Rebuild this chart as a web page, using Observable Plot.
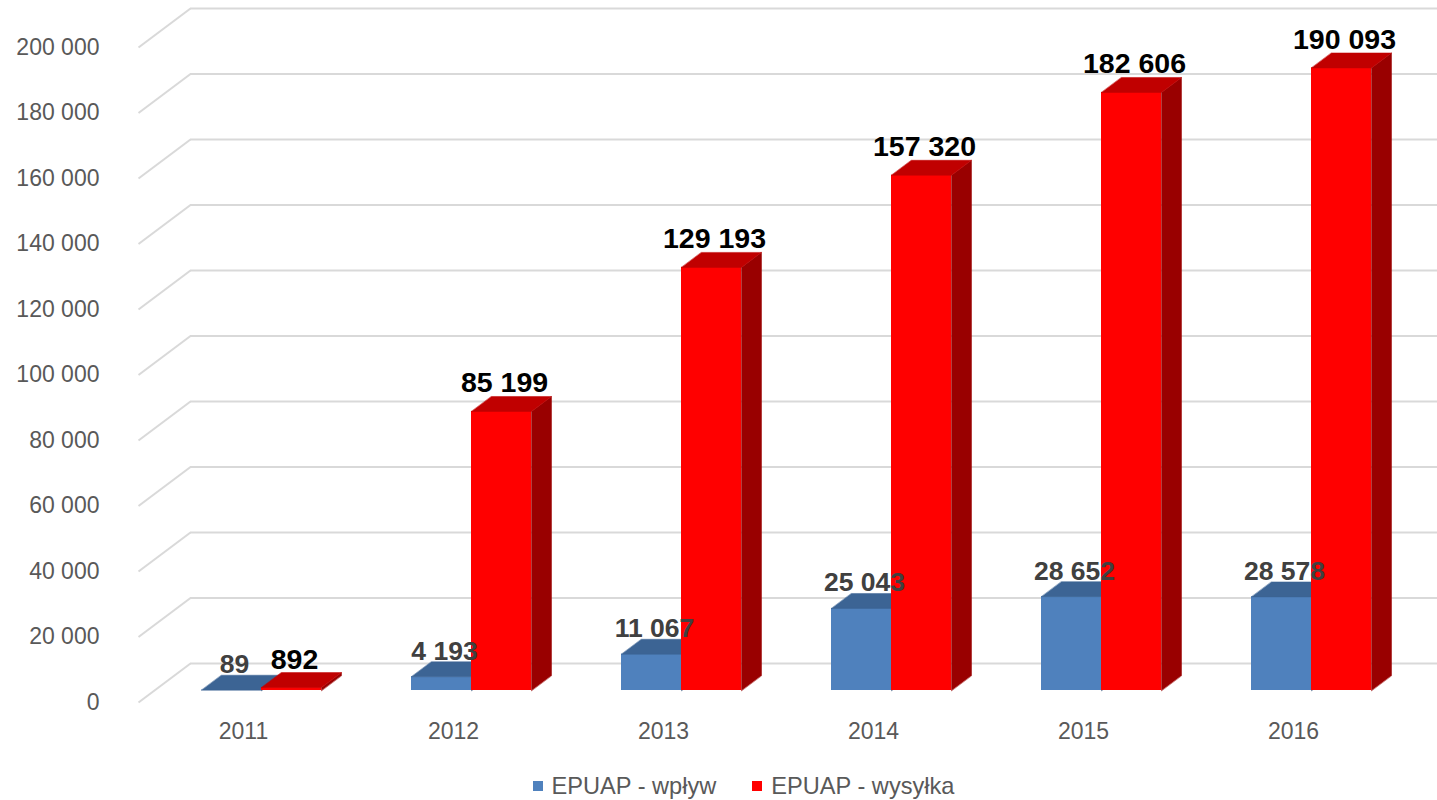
<!DOCTYPE html>
<html>
<head>
<meta charset="utf-8">
<script src="https://cdn.jsdelivr.net/npm/d3@7"></script>
<script src="https://cdn.jsdelivr.net/npm/@observablehq/plot@0.6"></script>
<style>
  html, body { margin: 0; padding: 0; background: #fff; }
  #chart svg { display: block; }
  #legend {
    height: 40px; display: flex; justify-content: center; align-items: center;
    font-family: "Liberation Sans", Arial, sans-serif; font-size: 23.6px; color: #595959;
    margin-top: 6px; padding-left: 50px;
  }
  .item { display: flex; align-items: center; margin: 0 18px; }
  .sw { width: 10px; height: 10px; margin-right: 9px; }
</style>
</head>
<body>
<div id="chart"></div>
<div id="legend"></div>
<script>
// ---- data ----
const years = ["2011", "2012", "2013", "2014", "2015", "2016"];
const wplyw = [89, 4193, 11067, 25043, 28652, 28578];
const wysylka = [892, 85199, 129193, 157320, 182606, 190093];
const yTicks = [0, 20000, 40000, 60000, 80000, 100000, 120000, 140000, 160000, 180000, 200000];
const seriesNames = ["EPUAP - wpływ", "EPUAP - wysyłka"];

// ---- styling / geometry constants (pixels) ----
const W = 1437, H = 760;
const mLeft = 138, mRight = 39, mTop = 47, mBottom = 58;
const colors = {
  blue: {front: "#4f81bd", top: "#3c6494", side: "#2f5078"},
  red: {front: "#ff0000", top: "#c00000", side: "#990000"}
};
const wallDX = 52, wallDY = 39;     // depth of back wall
const barDX = 18, barDY = 12;       // offset of bar front plane
const depDX = 20, depDY = 15;       // bar depth
const barW = 60;                    // bar width in px

// px -> data units, from the scale extents
const kx = 6 / (W - mLeft - mRight);
const ky = 200000 / (H - mTop - mBottom);

const fmt = v => d3.format(",")(v).replace(/,/g, " ");

// build geometry from data
const w = barW * kx, dX = depDX * kx, dY = depDY * ky;
function bars(values, series) {
  const fronts = [], tops = [], sides = [], labels = [];
  values.forEach((v, i) => {
    const c = i + 0.5;
    const x1 = series === "blue" ? c - w : c;
    const x2 = x1 + w;
    fronts.push({x1, x2, y1: 0, y2: v});
    const id = series + i;
    tops.push({id, x: x1, y: v}, {id, x: x2, y: v}, {id, x: x2 + dX, y: v + dY}, {id, x: x1 + dX, y: v + dY});
    sides.push({id, x: x2, y: 0}, {id, x: x2, y: v}, {id, x: x2 + dX, y: v + dY}, {id, x: x2 + dX, y: dY});
    labels.push({x: (x1 + x2) / 2, y: v, text: fmt(v)});
  });
  return {fronts, tops, sides, labels};
}
const B = bars(wplyw, "blue");
const R = bars(wysylka, "red");

const grid = yTicks.map(v => ({v, x1: 0, y1: v, x2: wallDX * kx, y2: v + wallDY * ky}));

function barMarks(G, col) {
  const off = {dx: barDX, dy: -barDY};
  return [
    Plot.line(G.sides, {x: "x", y: "y", z: "id", fill: col.side, stroke: col.side, strokeWidth: 0.5, curve: "linear-closed", ...off}),
    Plot.rect(G.fronts, {x1: "x1", x2: "x2", y1: "y1", y2: "y2", fill: col.front, ...off}),
    Plot.line(G.tops, {x: "x", y: "y", z: "id", fill: col.top, stroke: col.top, strokeWidth: 0.5, curve: "linear-closed", ...off})
  ];
}

const chart = Plot.plot({
  width: W, height: H,
  marginLeft: mLeft, marginRight: mRight, marginTop: mTop, marginBottom: mBottom,
  style: {fontFamily: "'Liberation Sans', Arial, sans-serif", background: "#fff", overflow: "visible"},
  x: {type: "linear", domain: [0, 6]},
  y: {type: "linear", domain: [0, 200000]},
  marks: [
    Plot.link(grid, {x1: "x1", y1: "y1", x2: "x2", y2: "y2", stroke: "#d9d9d9", strokeWidth: 2}),
    Plot.ruleY(grid, {y: "y2", x1: wallDX * kx, x2: (W - mLeft) * kx, stroke: "#d9d9d9", strokeWidth: 2}),
    Plot.axisY({ticks: yTicks, tickFormat: fmt, tickSize: 0, tickPadding: 39, fontSize: 23, color: "#595959", label: null}),
    Plot.axisX({ticks: years.map((_, i) => i + 0.5), tickFormat: d => years[Math.floor(d)], tickSize: 0, tickPadding: 20, fontSize: 23, color: "#595959", label: null}),
    ...barMarks(B, colors.blue),
    ...barMarks(R, colors.red),
    Plot.text(B.labels, {x: "x", y: "y", text: "text", dx: barDX + 3, dy: -barDY - 17, lineAnchor: "bottom", fontSize: 26.5, fontWeight: "bold", fill: "#404040"}),
    Plot.text(R.labels, {x: "x", y: "y", text: "text", dx: barDX + 3, dy: -barDY - 19, lineAnchor: "bottom", fontSize: 28.5, fontWeight: "bold", fill: "#000000"})
  ]
});
document.getElementById("chart").appendChild(chart);

// legend
const leg = document.getElementById("legend");
[[seriesNames[0], colors.blue.front], [seriesNames[1], colors.red.front]].forEach(([name, c]) => {
  const it = document.createElement("div"); it.className = "item";
  const sw = document.createElement("div"); sw.className = "sw"; sw.style.background = c;
  const t = document.createElement("span"); t.textContent = name;
  it.appendChild(sw); it.appendChild(t); leg.appendChild(it);
});
</script>
</body>
</html>
